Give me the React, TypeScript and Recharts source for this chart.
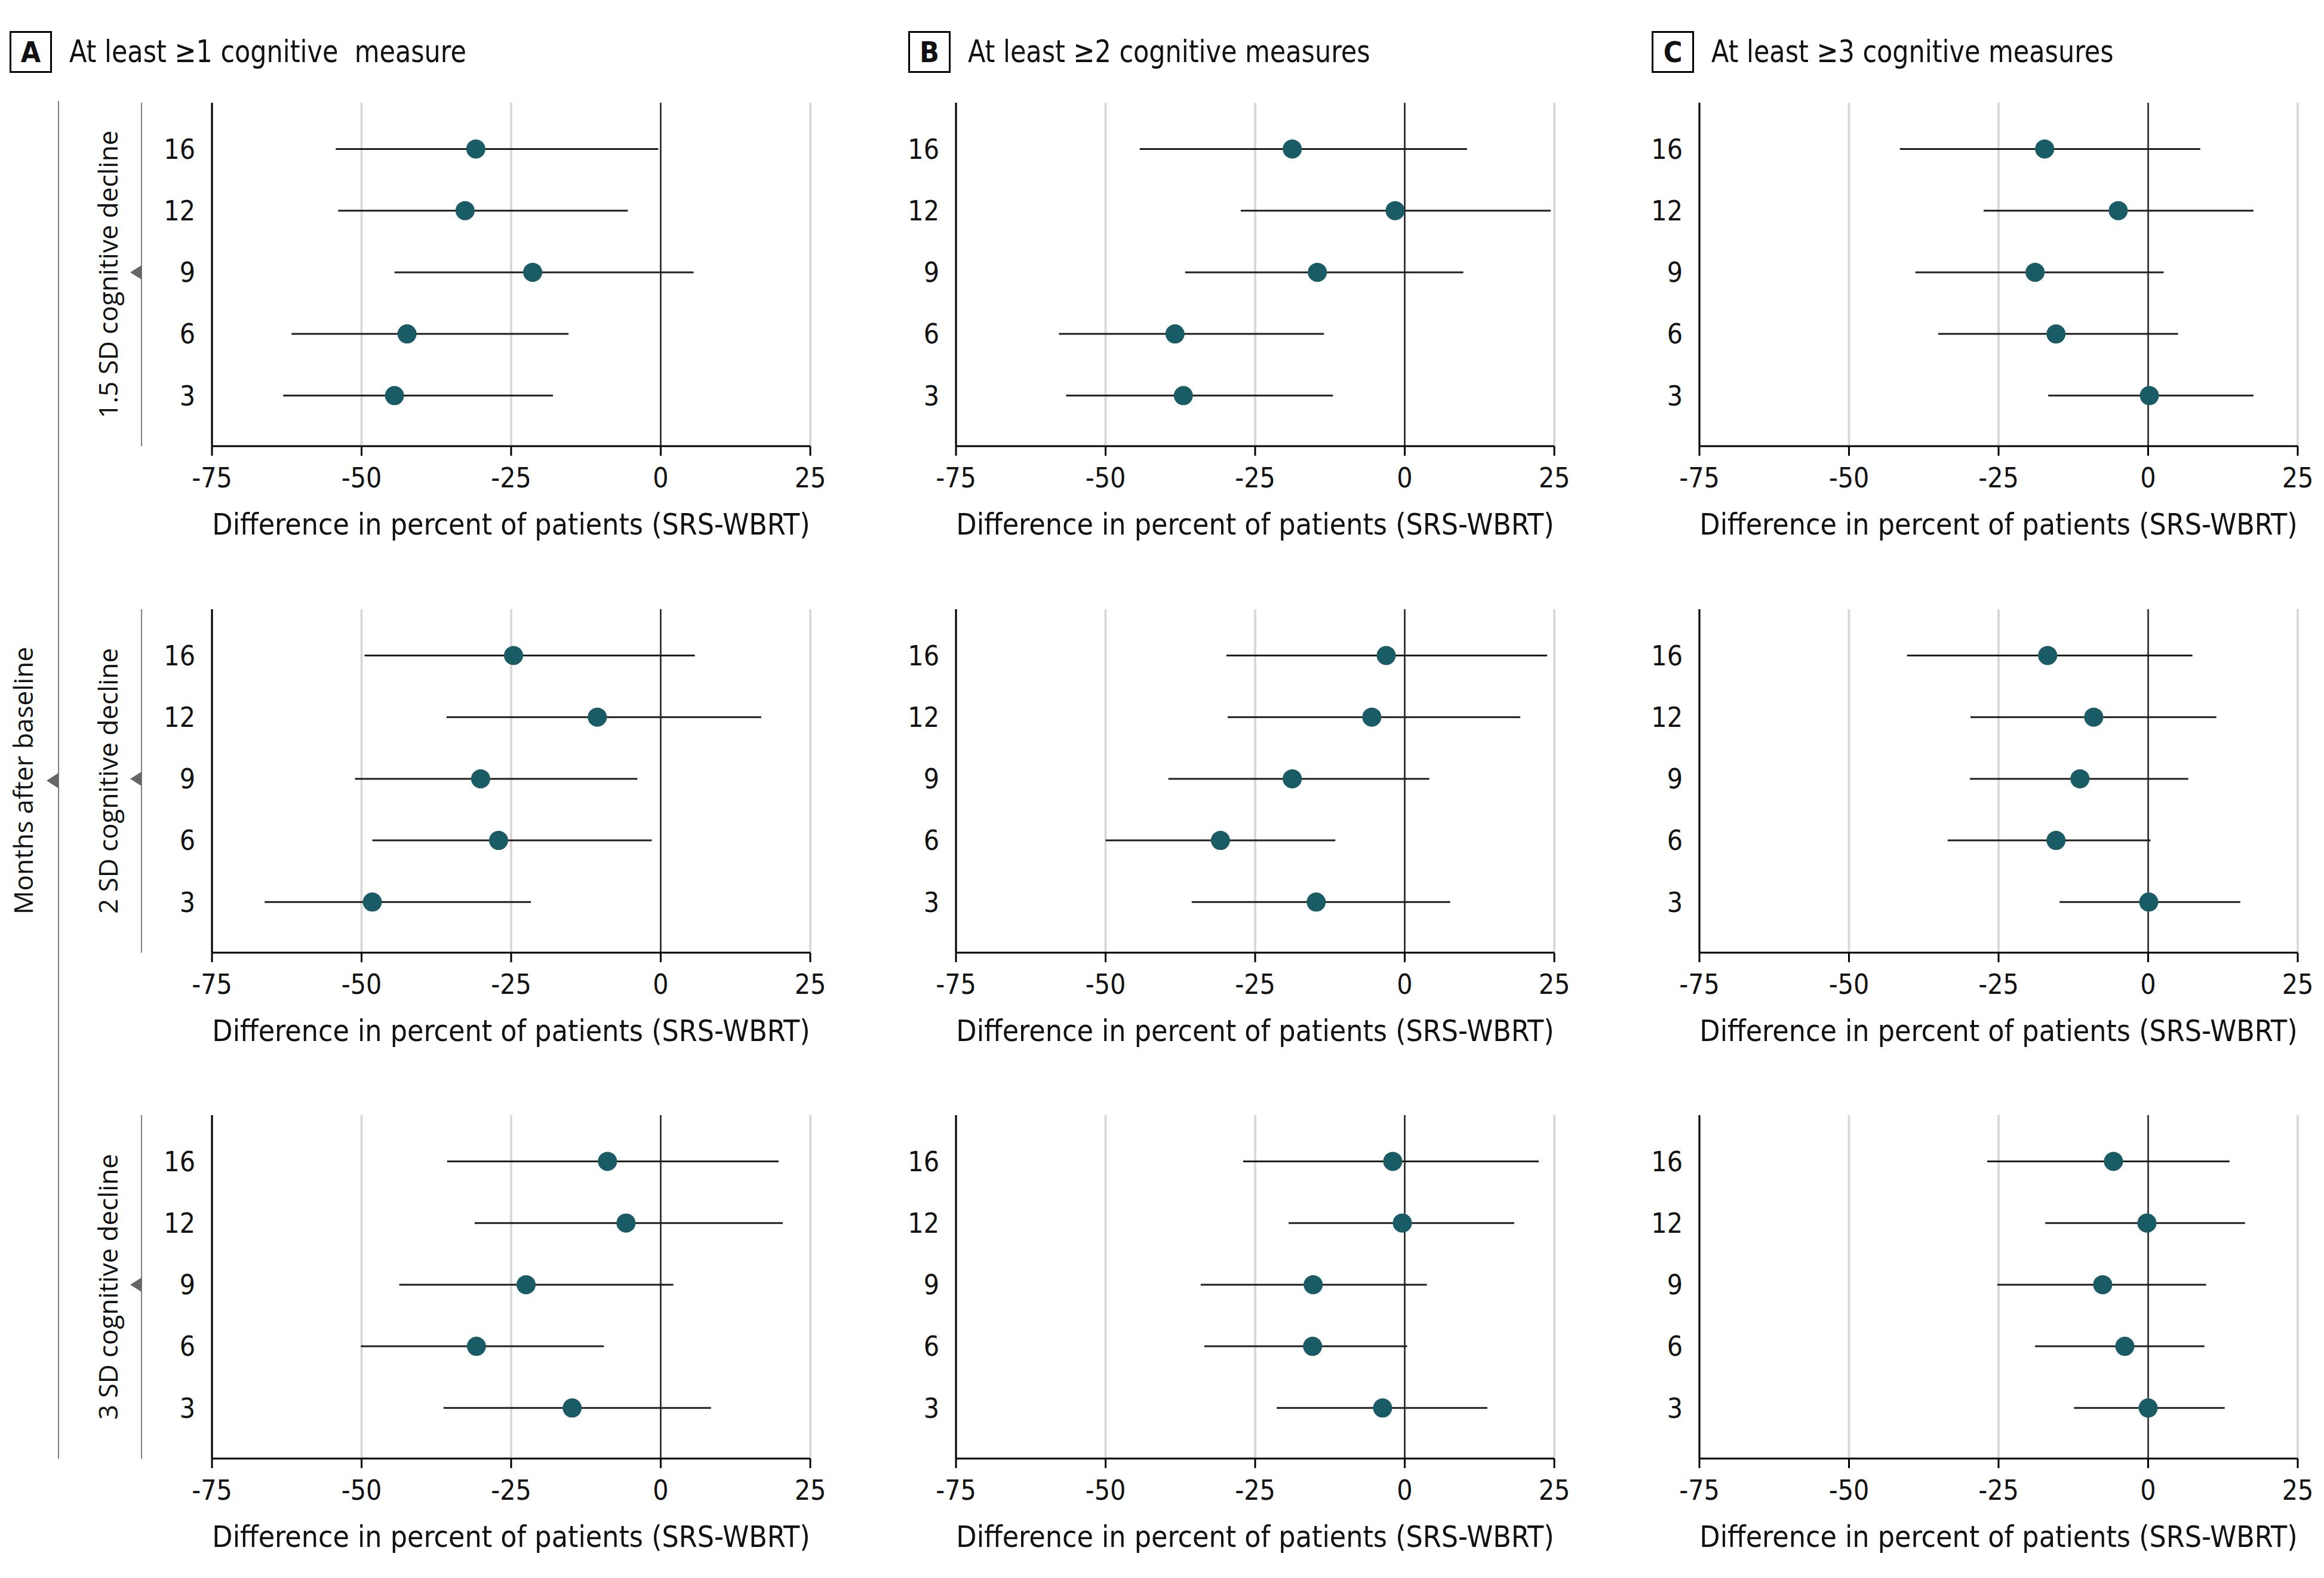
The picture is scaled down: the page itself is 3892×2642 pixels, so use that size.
import { ScatterChart, Scatter, XAxis, YAxis, CartesianGrid, ReferenceLine, ErrorBar } from 'recharts'

// months after baseline, bottom to top
const months = ['3', '6', '9', '12', '16']
const xTicks = [-75, -50, -25, 0, 25]

// 1.5 SD decline
const a15Est = [-44.5, -42.4, -21.4, -32.7, -30.9]
const a15Lo = [-63.1, -61.7, -44.5, -53.9, -54.3]
const a15Hi = [-18.0, -15.4, 5.5, -5.5, -0.4]
const b15Est = [-37.0, -38.4, -14.6, -1.6, -18.8]
const b15Lo = [-56.6, -57.8, -36.7, -27.4, -44.3]
const b15Hi = [-12.0, -13.5, 9.8, 24.4, 10.4]
const c15Est = [0.2, -15.4, -18.9, -5.0, -17.3]
const c15Lo = [-16.7, -35.1, -38.9, -27.5, -41.5]
const c15Hi = [17.6, 5.0, 2.6, 17.6, 8.7]

// 2 SD decline
const a2Est = [-48.2, -27.1, -30.1, -10.6, -24.6]
const a2Lo = [-66.2, -48.2, -51.1, -35.8, -49.5]
const a2Hi = [-21.7, -1.5, -3.9, 16.8, 5.7]
const b2Est = [-14.8, -30.8, -18.8, -5.5, -3.1]
const b2Lo = [-35.6, -50.0, -39.5, -29.6, -29.8]
const b2Hi = [7.6, -11.6, 4.1, 19.3, 23.8]
const c2Est = [0.1, -15.4, -11.4, -9.1, -16.8]
const c2Lo = [-14.8, -33.5, -29.8, -29.7, -40.3]
const c2Hi = [15.4, 0.4, 6.7, 11.4, 7.4]

// 3 SD decline
const a3Est = [-14.8, -30.8, -22.5, -5.8, -8.9]
const a3Lo = [-36.3, -50.1, -43.7, -31.1, -35.7]
const a3Hi = [8.4, -9.5, 2.1, 20.4, 19.7]
const b3Est = [-3.7, -15.4, -15.3, -0.4, -2.0]
const b3Lo = [-21.4, -33.5, -34.1, -19.4, -27.0]
const b3Hi = [13.8, 0.4, 3.7, 18.3, 22.4]
const c3Est = [0.0, -3.9, -7.6, -0.2, -5.8]
const c3Lo = [-12.4, -18.9, -25.2, -17.2, -26.9]
const c3Hi = [12.8, 9.4, 9.7, 16.2, 13.6]

const colTitles = [
  { letter: 'A', text: 'At least \u22651 cognitive  measure' },
  { letter: 'B', text: 'At least \u22652 cognitive measures' },
  { letter: 'C', text: 'At least \u22653 cognitive measures' }
]
const rowLabels = ['1.5 SD cognitive decline', '2 SD cognitive decline', '3 SD cognitive decline']
const outerLabel = 'Months after baseline'
const xTitle = 'Difference in percent of patients (SRS-WBRT)'

const panels = [
  [[a15Est, a15Lo, a15Hi], [b15Est, b15Lo, b15Hi], [c15Est, c15Lo, c15Hi]],
  [[a2Est, a2Lo, a2Hi], [b2Est, b2Lo, b2Hi], [c2Est, c2Lo, c2Hi]],
  [[a3Est, a3Lo, a3Hi], [b3Est, b3Lo, b3Hi], [c3Est, c3Lo, c3Hi]]
]

const NARROW = "'Liberation Sans Narrow', 'DejaVu Sans Condensed', 'Roboto Condensed', sans-serif"
const WIDE = "'Open Sans', 'DejaVu Sans', sans-serif"
const DOT = '#1a5c66'

const plotLefts = [355, 1601, 2846]
const plotTops = [172, 1020, 1867]
const plotW = 1002
const plotH = 575
const yAxisW = 130
const mTop = 10
const mRight = 50
const mBottom = 30
const xAxisH = 150

function Panel({ est, lo, hi, left, top }: { est: number[]; lo: number[]; hi: number[]; left: number; top: number }) {
  const data = est.map((v, i) => ({ y: i, x: v, err: [v - lo[i], hi[i] - v] }))
  return (
    <div style={{ position: 'absolute', left: left - yAxisW, top: top - mTop }}>
      <ScatterChart
        width={yAxisW + plotW + mRight}
        height={mTop + plotH + xAxisH + mBottom}
        margin={{ top: mTop, right: mRight, bottom: mBottom, left: 0 }}
      >
        <CartesianGrid horizontal={false} stroke="#d9d9d9" strokeWidth={4} />
        <XAxis
          type="number"
          dataKey="x"
          domain={[-75, 25]}
          ticks={xTicks}
          height={xAxisH}
          tickSize={16}
          tickMargin={20}
          axisLine={{ stroke: '#000', strokeWidth: 3 }}
          tickLine={{ stroke: '#000', strokeWidth: 3 }}
          tick={{ fontSize: 46, fill: '#111', fontFamily: NARROW }}
          label={{ value: xTitle, position: 'insideBottom', offset: 2, fontSize: 49.5, fill: '#111', fontFamily: NARROW }}
        />
        <YAxis
          type="number"
          dataKey="y"
          domain={[-0.82, 4.75]}
          ticks={[0, 1, 2, 3, 4]}
          tickFormatter={(i: number) => months[i]}
          width={yAxisW}
          tickSize={0}
          tickMargin={28}
          axisLine={{ stroke: '#000', strokeWidth: 3 }}
          tickLine={false}
          tick={{ fontSize: 46, fill: '#111', fontFamily: NARROW }}
        />
        <ReferenceLine x={0} stroke="#000" strokeWidth={2} />
        <Scatter
          data={data}
          isAnimationActive={false}
          shape={(p: any) => <circle cx={p.cx} cy={p.cy} r={16} fill={DOT} />}
        >
          <ErrorBar dataKey="err" direction="x" width={0} stroke="#1e1e1e" strokeWidth={3} />
        </Scatter>
      </ScatterChart>
    </div>
  )
}

export default function App() {
  const outerTop = plotTops[0]
  const outerBottom = plotTops[2] + plotH
  const outerMid = (outerTop + outerBottom) / 2
  return (
    <div style={{ position: 'absolute', left: 0, top: 0, width: 3892, height: 2642, background: '#fff', overflow: 'hidden' }}>
      {colTitles.map((t, c) => {
        const boxLeft = plotLefts[c] - (c === 0 ? 339 : 80)
        return (
          <div key={t.letter}>
            <div
              style={{
                position: 'absolute', left: boxLeft, top: 52, width: 71, height: 70,
                border: '3px solid #000', boxSizing: 'border-box',
                display: 'flex', alignItems: 'center', justifyContent: 'center',
                fontFamily: NARROW, fontWeight: 'bold', fontSize: 48, color: '#111'
              }}
            >
              {t.letter}
            </div>
            <div
              style={{
                position: 'absolute', left: boxLeft + 100, top: 56, height: 60, lineHeight: '60px',
                fontFamily: NARROW, fontSize: 52, color: '#111', whiteSpace: 'pre',
                transform: 'scaleX(0.918)', transformOrigin: 'left center'
              }}
            >
              {t.text}
            </div>
          </div>
        )
      })}

      {panels.map((row, r) =>
        row.map((p, c) => (
          <Panel key={`${r}-${c}`} est={p[0]} lo={p[1]} hi={p[2]} left={plotLefts[c]} top={plotTops[r]} />
        ))
      )}

      <svg width={3892} height={2642} style={{ position: 'absolute', left: 0, top: 0, pointerEvents: 'none' }}>
        <line x1={98} x2={98} y1={outerTop - 3} y2={outerBottom} stroke="#808080" strokeWidth={2} />
        <polygon points={`78,${outerMid} 98,${outerMid - 13} 98,${outerMid + 13}`} fill="#666" />
        <text
          transform={`translate(55, ${outerMid}) rotate(-90)`}
          textAnchor="middle"
          fontFamily={WIDE}
          fontSize={44}
          fill="#111"
        >
          {outerLabel}
        </text>
        {rowLabels.map((lab, r) => {
          const top = plotTops[r]
          const mid = top + plotH / 2
          const nineY = top + ((4.75 - 2) / (4.75 + 0.82)) * plotH
          return (
            <g key={lab}>
              <line x1={237} x2={237} y1={top} y2={top + plotH} stroke="#808080" strokeWidth={2} />
              <polygon points={`218,${nineY} 237,${nineY - 12} 237,${nineY + 12}`} fill="#666" />
              <text
                transform={`translate(197, ${mid}) rotate(-90)`}
                textAnchor="middle"
                fontFamily={WIDE}
                fontSize={44}
                fill="#111"
              >
                {lab}
              </text>
            </g>
          )
        })}
      </svg>
    </div>
  )
}
